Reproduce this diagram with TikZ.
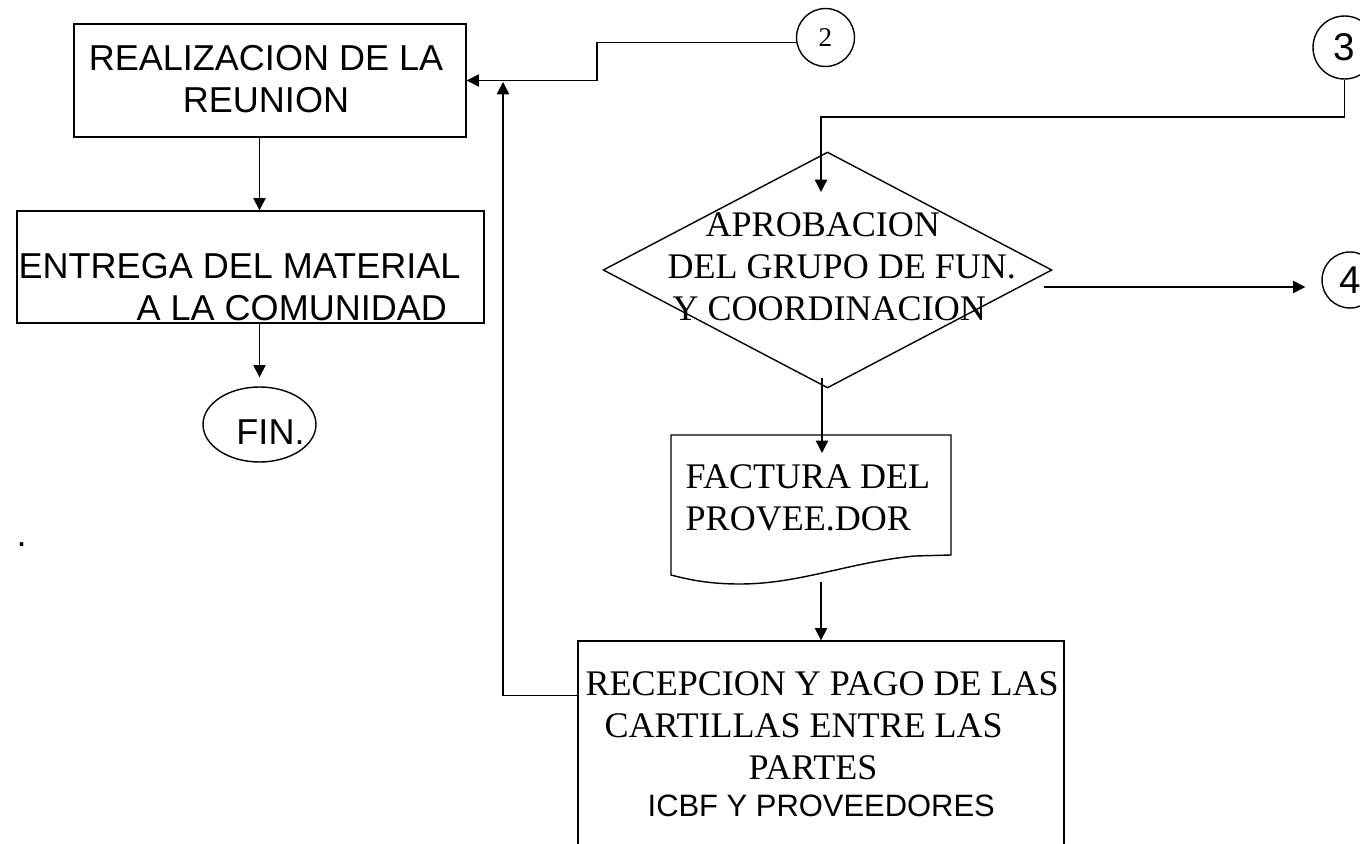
\documentclass[tikz,border=0pt]{standalone}
\usepackage{fontspec}
\setmainfont{Liberation Serif}
\newfontfamily\arialfont{Liberation Sans}
\usetikzlibrary{shapes.geometric, arrows.meta, positioning, calc}

\tikzset{
  >={Triangle[length=7pt,width=7pt]},
  procbox/.style={draw, line width=0.8pt, inner sep=0pt},
  connbox/.style={draw, circle, line width=0.8pt, inner sep=0pt},
  sanstext/.style={font=\arialfont\fontsize{20.5}{23.9}\selectfont, inner sep=0pt},
  seriftext/.style={font=\fontsize{20.5}{23.9}\selectfont, inner sep=0pt},
}

\begin{document}
\begin{tikzpicture}[x=0.02cm, y=-0.02cm, line width=0.8pt]
    \useasboundingbox (0,0) rectangle (1360,844);
    \clip (0,0) rectangle (1360,844);
    \fill[white] (0,0) rectangle (1360,844);

    % Left column
    \node[procbox, minimum width=7.84cm, minimum height=2.26cm] (reunion) at (270,80.5) {};
    \node[sanstext, align=center, anchor=north] (reuniontxt) at (266,45) {REALIZACION DE LA\\REUNION};
    \node[procbox, minimum width=9.34cm, minimum height=2.24cm] (entrega) at (250.5,267) {};
    \node[sanstext, align=left, anchor=north west] (entregatxt) at (18,253)
        {ENTREGA DEL MATERIAL\\\hspace*{2.36cm}A LA COMUNIDAD};
    \node[procbox, ellipse, minimum width=2.26cm, minimum height=1.5cm] (fin) at (259.5,424.5) {};
    \node[sanstext, anchor=base] (fintxt) at (270.5,445) {FIN.};
    \node[sanstext, anchor=base west] (dot) at (16,547) {.};

    % Connectors
    \node[connbox, minimum size=1.16cm, font=\fontsize{15.4}{18}\selectfont] (c2) at (825.5,37.5) {2};
    \node[connbox, minimum size=1.26cm, font=\arialfont\fontsize{22}{26}\selectfont] (c3) at (1344.5,47.5) {3};
    \node[connbox, minimum size=1.12cm, font=\arialfont\fontsize{22}{26}\selectfont] (c4) at (1350,280) {4};

    % Decision
    \node[procbox, diamond, minimum width=8.98cm, minimum height=4.72cm] (aprob) at (827.5,270) {};
    \node[seriftext, align=left, anchor=north west] (aprobtxt) at (667,212)
        {\hspace*{0.76cm}APROBACION\\DEL GRUPO DE FUN.\\\hspace*{0.1cm}Y COORDINACION};

    % Document
    \draw (671,435) -- (951,435) -- (951,555) -- (915,556)
        .. controls (850,562) and (800,584) .. (740,584)
        .. controls (710,584) and (690,580) .. (671,575) -- cycle;
    \node[seriftext, align=left, anchor=north west] (factura) at (685,464) {FACTURA DEL\\PROVEE.DOR};

    % Payment
    \node[procbox, minimum width=9.72cm, minimum height=5.18cm] (recepcion) at (821,770.5) {};
    \node[seriftext, align=left, anchor=north west] (recepciontxt) at (585,671)
        {RECEPCION Y PAGO DE LAS\\\hspace*{0.38cm}CARTILLAS ENTRE LAS\\\hspace*{3.26cm}PARTES\\[-0.1cm]%
         \hspace*{1.24cm}{\arialfont\fontsize{17.6}{20}\selectfont ICBF Y PROVEEDORES}};

    % Flow lines
    \draw[->] (reunion.south -| fin.north) -- (entrega.north -| fin.north);
    \draw[->, shorten >=0.18cm] (entrega.south -| fin.north) -- (fin.north);

    \coordinate (bend2) at (597,80.5);
    \draw[->] (c2.190) -| (bend2) -- (reunion.east);

    \coordinate (loopend) at (503,82);
    \draw[->] ($(recepcion.north west)+(0,55)$) -| (loopend);

    \coordinate (turn3) at (821,117);
    \coordinate (into3) at (821,192);
    \draw[->] (c3.south) |- (turn3) -- (into3);

    \coordinate (out4) at (1044,287);
    \draw[->, shorten >=0.32cm] (out4) -- (out4 -| c4.west);

    \coordinate (dbot) at (822,378);
    \coordinate (ftop) at (822,453);
    \draw[->] (dbot) -- (ftop);

    \coordinate (fbot) at (821,582);
    \draw[->] (fbot) -- (fbot |- recepcion.north);
\end{tikzpicture}
\end{document}
